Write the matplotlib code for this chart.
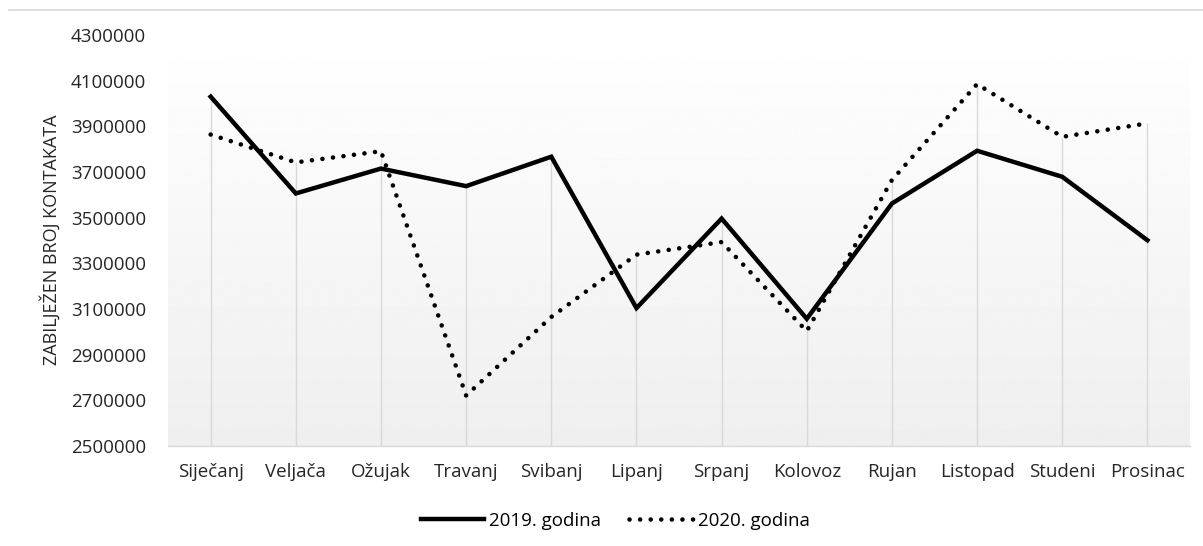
import numpy as np
import matplotlib
matplotlib.use('Agg')
import matplotlib.pyplot as plt
from matplotlib.lines import Line2D

months = ['Siječanj', 'Veljača', 'Ožujak', 'Travanj', 'Svibanj', 'Lipanj',
          'Srpanj', 'Kolovoz', 'Rujan', 'Listopad', 'Studeni', 'Prosinac']
y2019 = [4030000, 3606000, 3715000, 3638000, 3767000, 3104000,
         3496000, 3057000, 3562000, 3793000, 3679000, 3401000]
y2020 = [3864000, 3742000, 3791000, 2721000, 3065000, 3338000,
         3393000, 3003000, 3665000, 4085000, 3854000, 3913000]
yticks = list(range(2500000, 4300001, 200000))

plt.rcParams['font.family'] = ['Open Sans', 'DejaVu Sans']

fig = plt.figure(figsize=(12.03, 5.46), dpi=100)
ax = fig.add_axes([0.1397, 0.1832, 0.8495, 0.7527])

x = np.arange(len(months))

# light gradient background of the plot area
grad = np.linspace(1.0, 0.935, 256).reshape(-1, 1)
ax.imshow(grad, cmap='gray', vmin=0, vmax=1, aspect='auto',
          extent=[0, 1, 0, 1], transform=ax.transAxes, zorder=0)

# drop lines from the higher value down to the axis
tops = np.maximum(y2019, y2020)
ax.vlines(x, 2500000, tops, color='#d9d9d9', lw=1, zorder=1)

ax.plot(x, y2019, color='black', lw=3.2, solid_joinstyle='miter', zorder=3,
        label='2019. godina')
ax.plot(x, y2020, color='black', lw=3.3, linestyle=(0, (0.01, 2.3)),
        dash_capstyle='round', zorder=3, label='2020. godina')

ax.set_xlim(-0.5, len(months) - 0.5)
ax.set_ylim(2500000, 4300000)
ax.set_yticks(yticks)
ax.set_yticklabels([str(v) for v in yticks], fontsize=13.5, color='#262626')
ax.set_xticks(x)
ax.set_xticklabels(months, fontsize=13.5, color='#262626')
ax.tick_params(axis='y', length=0, pad=16)
ax.tick_params(axis='x', length=0, pad=12)

for s in ['left', 'right', 'top']:
    ax.spines[s].set_visible(False)
ax.spines['bottom'].set_color('#d9d9d9')
ax.spines['bottom'].set_linewidth(1)

fig.text(50 / 1203, 1 - 240 / 546, 'ZABILJEŽEN BROJ KONTAKATA', rotation=90,
         ha='center', va='center', fontsize=13, color='#262626')

# thin border line across the top
fig.add_artist(Line2D([9 / 1203, 1], [1 - 10 / 546, 1 - 10 / 546],
                      color='#d9d9d9', lw=1.2, transform=fig.transFigure))

fig.legend(loc='center', bbox_to_anchor=(615 / 1203, 1 - 521 / 546), ncol=2,
           frameon=False, fontsize=13.5, handlelength=3.4, handletextpad=0.25,
           columnspacing=1.5)

plt.savefig('out.png', dpi=100)
